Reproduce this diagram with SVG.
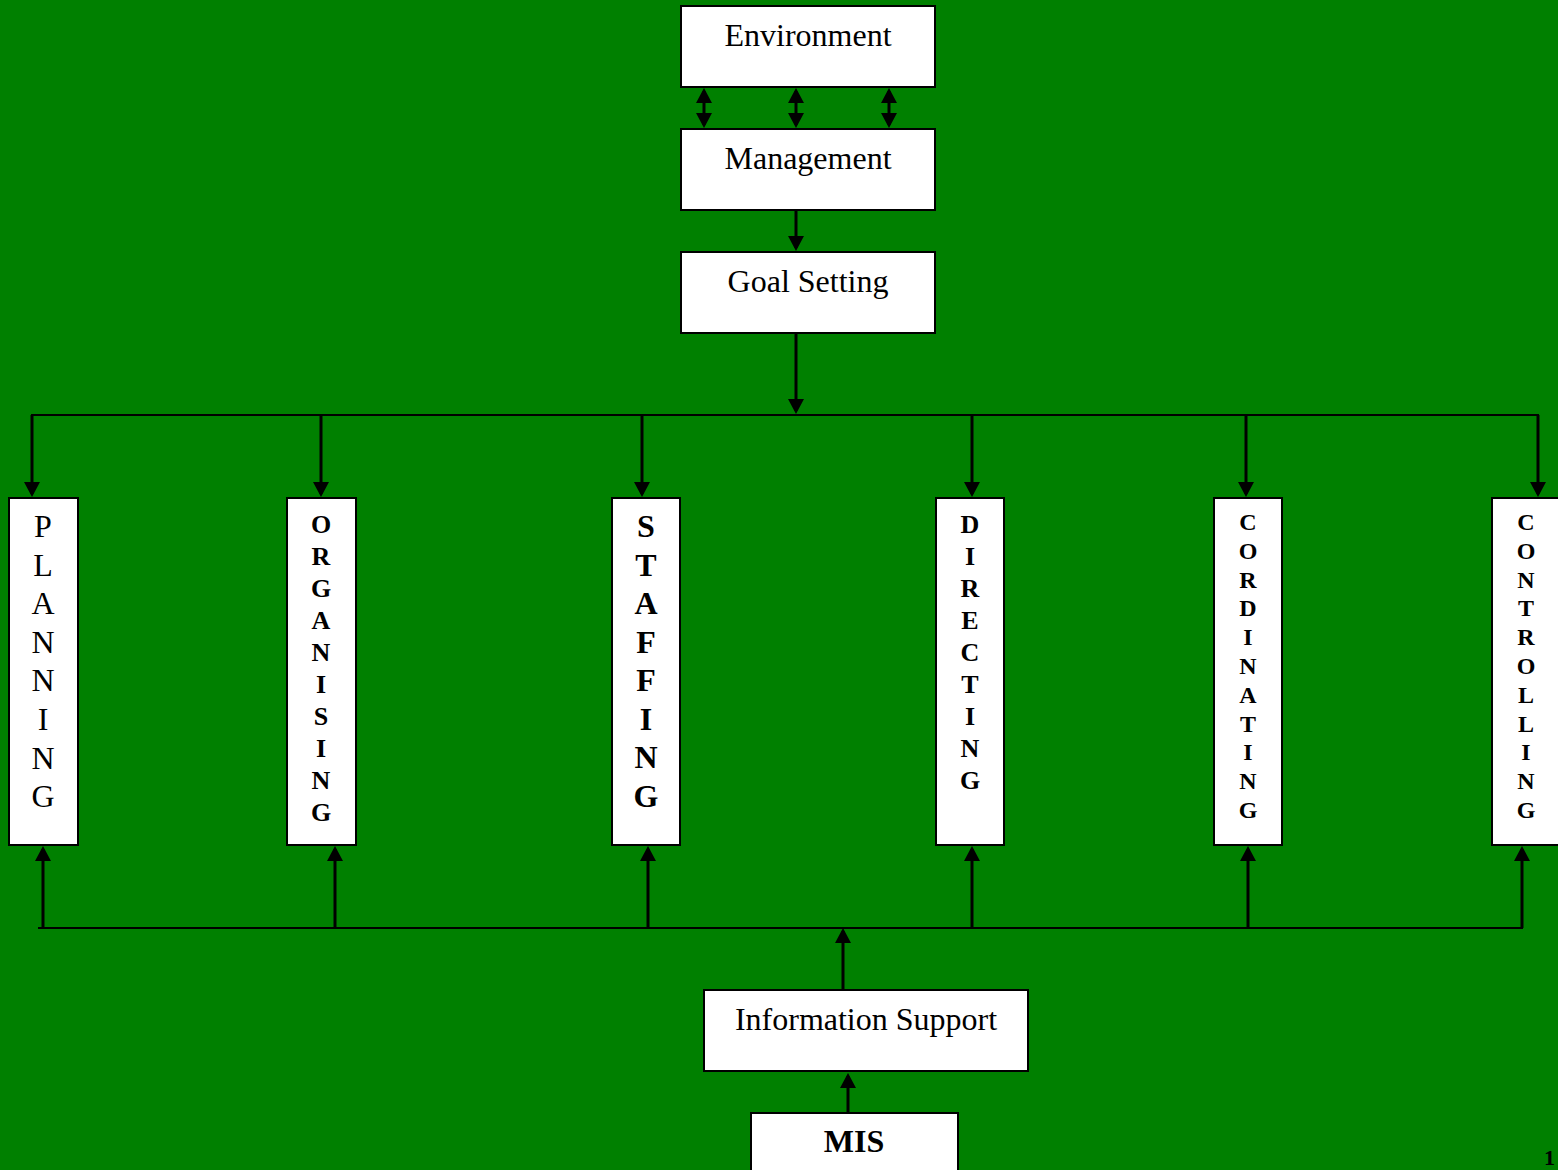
<svg xmlns="http://www.w3.org/2000/svg" width="1558" height="1170" viewBox="0 0 1558 1170">
<style>
.box{fill:#fff;stroke:#000;stroke-width:2}
.lbl{font-family:"Liberation Serif","Times New Roman",serif;font-size:32px;fill:#000;text-anchor:middle}
.b{font-weight:bold}
.v{font-family:"Liberation Serif","Times New Roman",serif;fill:#000;text-anchor:middle;font-weight:bold}
.con{stroke:#000;stroke-width:3;fill:none}
.bus{stroke:#000;stroke-width:2;fill:none}
.a{marker-end:url(#ah)}
.d{marker-start:url(#ah);marker-end:url(#ah)}
</style>
<defs>
<marker id="ah" viewBox="0 0 15 16" refX="12" refY="8" markerWidth="15" markerHeight="16" markerUnits="userSpaceOnUse" orient="auto-start-reverse">
<path d="M0,0 L15,8 L0,16 z" fill="#000"/>
</marker>
</defs>
<rect width="1558" height="1170" fill="#008000"/>

<g id="connectors">
<line class="con d" x1="704" y1="91" x2="704" y2="125"/>
<line class="con d" x1="796" y1="91" x2="796" y2="125"/>
<line class="con d" x1="889" y1="91" x2="889" y2="125"/>
<line class="con a" x1="796" y1="211" x2="796" y2="248"/>
<line class="con a" x1="796" y1="334" x2="796" y2="411"/>
<line class="bus" x1="31" y1="415" x2="1539" y2="415"/>
<line class="con a" x1="32" y1="415" x2="32" y2="494"/>
<line class="con a" x1="321" y1="415" x2="321" y2="494"/>
<line class="con a" x1="642" y1="415" x2="642" y2="494"/>
<line class="con a" x1="972" y1="415" x2="972" y2="494"/>
<line class="con a" x1="1246" y1="415" x2="1246" y2="494"/>
<line class="con a" x1="1538" y1="415" x2="1538" y2="494"/>
<line class="bus" x1="38" y1="928" x2="1523" y2="928"/>
<line class="con a" x1="43" y1="928" x2="43" y2="849"/>
<line class="con a" x1="335" y1="928" x2="335" y2="849"/>
<line class="con a" x1="648" y1="928" x2="648" y2="849"/>
<line class="con a" x1="972" y1="928" x2="972" y2="849"/>
<line class="con a" x1="1248" y1="928" x2="1248" y2="849"/>
<line class="con a" x1="1522" y1="928" x2="1522" y2="849"/>
<line class="con a" x1="843" y1="990" x2="843" y2="931"/>
<line class="con a" x1="848" y1="1113" x2="848" y2="1076"/>
</g>

<g id="environment"><rect class="box" x="681" y="6" width="254" height="81"/><text class="lbl" x="808" y="46">Environment</text></g>
<g id="management"><rect class="box" x="681" y="129" width="254" height="81"/><text class="lbl" x="808" y="169">Management</text></g>
<g id="goal-setting"><rect class="box" x="681" y="252" width="254" height="81"/><text class="lbl" x="808" y="292">Goal Setting</text></g>

<g id="planning"><rect class="box" x="9" y="498" width="69" height="347"/>
<text class="v" style="font-weight:normal" font-size="32" x="43"><tspan x="43" y="537">P</tspan><tspan x="43" y="575.6">L</tspan><tspan x="43" y="614.2">A</tspan><tspan x="43" y="652.8">N</tspan><tspan x="43" y="691.4">N</tspan><tspan x="43" y="730">I</tspan><tspan x="43" y="768.6">N</tspan><tspan x="43" y="807.2">G</tspan></text></g>

<g id="organising"><rect class="box" x="287" y="498" width="69" height="347"/>
<text class="v" font-size="26" x="321"><tspan x="321" y="533">O</tspan><tspan x="321" y="565">R</tspan><tspan x="321" y="597">G</tspan><tspan x="321" y="629">A</tspan><tspan x="321" y="661">N</tspan><tspan x="321" y="693">I</tspan><tspan x="321" y="725">S</tspan><tspan x="321" y="757">I</tspan><tspan x="321" y="789">N</tspan><tspan x="321" y="821">G</tspan></text></g>

<g id="staffing"><rect class="box" x="612" y="498" width="68" height="347"/>
<text class="v" font-size="32" x="646"><tspan x="646" y="537">S</tspan><tspan x="646" y="576">T</tspan><tspan x="646" y="614">A</tspan><tspan x="646" y="653">F</tspan><tspan x="646" y="691">F</tspan><tspan x="646" y="730">I</tspan><tspan x="646" y="768">N</tspan><tspan x="646" y="807">G</tspan></text></g>

<g id="directing"><rect class="box" x="936" y="498" width="68" height="347"/>
<text class="v" font-size="26" x="970"><tspan x="970" y="533">D</tspan><tspan x="970" y="565">I</tspan><tspan x="970" y="597">R</tspan><tspan x="970" y="629">E</tspan><tspan x="970" y="661">C</tspan><tspan x="970" y="693">T</tspan><tspan x="970" y="725">I</tspan><tspan x="970" y="757">N</tspan><tspan x="970" y="789">G</tspan></text></g>

<g id="cordinating"><rect class="box" x="1214" y="498" width="68" height="347"/>
<text class="v" font-size="24" x="1248"><tspan x="1248" y="530">C</tspan><tspan x="1248" y="558.8">O</tspan><tspan x="1248" y="587.6">R</tspan><tspan x="1248" y="616.4">D</tspan><tspan x="1248" y="645.2">I</tspan><tspan x="1248" y="674">N</tspan><tspan x="1248" y="702.8">A</tspan><tspan x="1248" y="731.6">T</tspan><tspan x="1248" y="760.4">I</tspan><tspan x="1248" y="789.2">N</tspan><tspan x="1248" y="818">G</tspan></text></g>

<g id="controlling"><rect class="box" x="1492" y="498" width="80" height="347"/>
<text class="v" font-size="24" x="1526"><tspan x="1526" y="530">C</tspan><tspan x="1526" y="558.8">O</tspan><tspan x="1526" y="587.6">N</tspan><tspan x="1526" y="616.4">T</tspan><tspan x="1526" y="645.2">R</tspan><tspan x="1526" y="674">O</tspan><tspan x="1526" y="702.8">L</tspan><tspan x="1526" y="731.6">L</tspan><tspan x="1526" y="760.4">I</tspan><tspan x="1526" y="789.2">N</tspan><tspan x="1526" y="818">G</tspan></text></g>

<g id="information-support"><rect class="box" x="704" y="990" width="324" height="81"/><text class="lbl" x="866" y="1030">Information Support</text></g>
<g id="mis"><rect class="box" x="751" y="1113" width="207" height="70"/><text class="lbl b" x="854" y="1152">MIS</text></g>

<text x="1544" y="1165" style="font-family:'Liberation Serif','Times New Roman',serif;font-size:22px;font-weight:bold;fill:#000">1</text>
</svg>
